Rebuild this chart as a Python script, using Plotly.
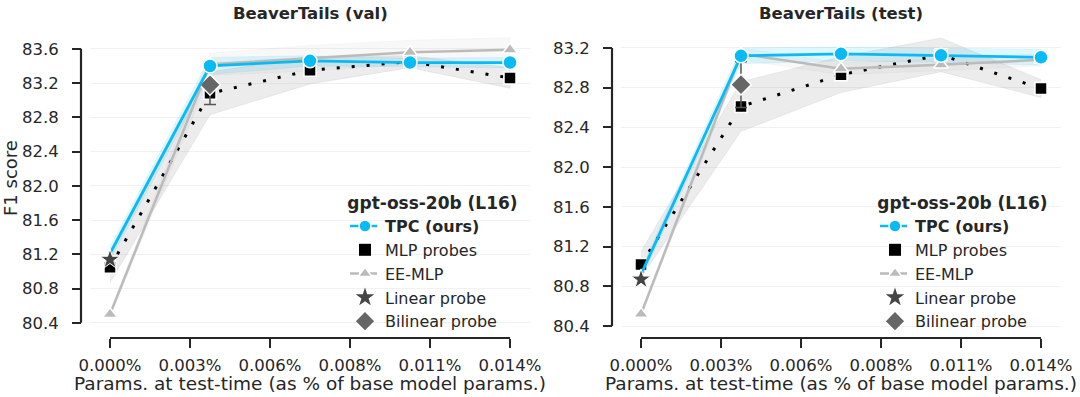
import plotly.graph_objects as go

# params at test-time (% of base model params)
params_pct = [0.0, 0.0035, 0.007, 0.0105, 0.014]
x_ticks = [0.0, 0.0028, 0.0056, 0.0084, 0.0112, 0.014]
x_tick_labels = ["0.000%", "0.003%", "0.006%", "0.008%", "0.011%", "0.014%"]

# BeaverTails (val)
tpc_val = [81.21, 83.40, 83.46, 83.44, 83.44]
tpc_val_sd = [0.08, 0.10, 0.06, 0.05, 0.06]
mlp_val = [81.05, 83.08, 83.35, 83.45, 83.26]
mlp_val_sd = [0.18, 0.25, 0.16, 0.07, 0.12]
ee_val = [80.50, 83.42, 83.49, 83.56, 83.59]
ee_val_sd = [0.03, 0.13, 0.15, 0.14, 0.14]
linear_val = 81.14
bilinear_val = 83.18
bilinear_val_err = 0.23
y_ticks_val = [80.4, 80.8, 81.2, 81.6, 82.0, 82.4, 82.8, 83.2, 83.6]

# BeaverTails (test)
tpc_test = [80.92, 83.12, 83.14, 83.125, 83.105]
tpc_test_sd = [0.05, 0.08, 0.07, 0.07, 0.08]
mlp_test = [81.02, 82.61, 82.93, 83.13, 82.79]
mlp_test_sd = [0.13, 0.25, 0.18, 0.17, 0.09]
ee_test = [80.52, 83.14, 82.99, 83.03, 83.08]
ee_test_sd = [0.03, 0.06, 0.06, 0.06, 0.06]
linear_test = 80.87
bilinear_test = 82.83
bilinear_test_err = 0.23
y_ticks_test = [80.4, 80.8, 81.2, 81.6, 82.0, 82.4, 82.8, 83.2]

FONT = "DejaVu Sans"
INK = "#262626"
BLUE = "#0abaf5"
W, H = 1080, 397

panels = [
    dict(title="BeaverTails (val)", tpc=tpc_val, tpc_sd=tpc_val_sd, mlp=mlp_val, mlp_sd=mlp_val_sd,
         ee=ee_val, ee_sd=ee_val_sd, lin=linear_val, bil=bilinear_val, bil_err=bilinear_val_err,
         yticks=y_ticks_val, yrange=[80.34, 83.82], xdom=[90 / W, 530 / W], yspine=81 / W,
         xa="x", ya="y", leg="legend", legx=345 / W),
    dict(title="BeaverTails (test)", tpc=tpc_test, tpc_sd=tpc_test_sd, mlp=mlp_test, mlp_sd=mlp_test_sd,
         ee=ee_test, ee_sd=ee_test_sd, lin=linear_test, bil=bilinear_test, bil_err=bilinear_test_err,
         yticks=y_ticks_test, yrange=[80.38, 83.38], xdom=[621 / W, 1061 / W], yspine=612 / W,
         xa="x2", ya="y2", leg="legend2", legx=875 / W),
]


def band(x, m, s):
    up = [a + b for a, b in zip(m, s)]
    lo = [a - b for a, b in zip(m, s)]
    return x + x[::-1], up + lo[::-1]


fig = go.Figure()
ydom = [(H - 328) / H, (H - 30) / H]
xspine_y = (H - 338) / H
shapes, annotations = [], []

for i, p in enumerate(panels):
    xa, ya = p["xa"], p["ya"]
    common = dict(xaxis=xa, yaxis=ya, showlegend=False, hoverinfo="skip")

    # shaded bands
    for m, s, col in [(p["ee"], p["ee_sd"], "rgba(150,150,150,0.07)"),
                      (p["mlp"], p["mlp_sd"], "rgba(140,140,140,0.17)"),
                      (p["tpc"], p["tpc_sd"], "rgba(10,186,245,0.12)")]:
        bx, by = band(params_pct, m, s)
        fig.add_trace(go.Scatter(x=bx, y=by, fill="toself", fillcolor=col, mode="lines",
                                 line=dict(width=0.8, color=col), **common))

    # MLP probes
    fig.add_trace(go.Scatter(x=params_pct, y=p["mlp"], mode="lines+markers",
                             line=dict(color="black", width=3, dash="3px,12px"),
                             marker=dict(symbol="square", size=12, color="black",
                                         line=dict(color="white", width=1.5)), **common))
    # EE-MLP
    fig.add_trace(go.Scatter(x=params_pct, y=p["ee"], mode="lines+markers",
                             line=dict(color="#bbbbbb", width=2.5),
                             marker=dict(symbol="triangle-up", size=13, color="#bbbbbb",
                                         line=dict(color="white", width=1.5)), **common))
    # Bilinear probe
    fig.add_trace(go.Scatter(x=[params_pct[1]], y=[p["bil"]], mode="markers",
                             error_y=dict(type="data", array=[p["bil_err"]], color="#555555",
                                          thickness=1.5, width=6),
                             marker=dict(symbol="diamond", size=16, color="#666666",
                                         line=dict(color="white", width=1.5)), **common))
    # TPC
    fig.add_trace(go.Scatter(x=params_pct, y=p["tpc"], mode="lines",
                             line=dict(color=BLUE, width=2.8), **common))
    fig.add_trace(go.Scatter(x=params_pct[1:], y=p["tpc"][1:], mode="markers",
                             marker=dict(symbol="circle", size=14, color=BLUE,
                                         line=dict(color="white", width=1.5)), **common))
    # Linear probe
    fig.add_trace(go.Scatter(x=[params_pct[0]], y=[p["lin"]], mode="markers",
                             marker=dict(symbol="star", size=15, color="#454545",
                                         line=dict(color="white", width=1)), **common))

    # legend-only entries
    leg = dict(xaxis=xa, yaxis=ya, legend=p["leg"], x=[None], y=[None])
    fig.add_trace(go.Scatter(name="<b>TPC (ours)</b>", mode="lines+markers",
                             line=dict(color=BLUE, width=2.5, dash="dash"),
                             marker=dict(symbol="circle", size=12, color=BLUE,
                                         line=dict(color="white", width=1.5)), **leg))
    fig.add_trace(go.Scatter(name="MLP probes", mode="markers",
                             marker=dict(symbol="square", size=12, color="black"), **leg))
    fig.add_trace(go.Scatter(name="EE-MLP", mode="lines+markers",
                             line=dict(color="#bbbbbb", width=2.5, dash="dash"),
                             marker=dict(symbol="triangle-up", size=12, color="#bbbbbb",
                                         line=dict(color="white", width=1.5)), **leg))
    fig.add_trace(go.Scatter(name="Linear probe", mode="markers",
                             marker=dict(symbol="star", size=14, color="#454545"), **leg))
    fig.add_trace(go.Scatter(name="Bilinear probe", mode="markers",
                             marker=dict(symbol="diamond", size=14, color="#666666"), **leg))

    sfx = "" if i == 0 else "2"
    fig.layout["xaxis" + sfx] = dict(
        domain=p["xdom"], range=[-0.0007, 0.0147], anchor="free", position=xspine_y,
        tickvals=x_ticks, ticktext=x_tick_labels, ticks="outside", ticklen=9,
        tickwidth=2, tickcolor=INK, showline=False, showgrid=False, zeroline=False,
        automargin=False, tickfont=dict(size=16.5, color=INK, family=FONT),
        ticklabelstandoff=3)
    fig.layout["yaxis" + sfx] = dict(
        domain=ydom, range=p["yrange"], anchor="free", position=p["yspine"],
        tickvals=p["yticks"], tickformat=".1f", ticks="outside", ticklen=9,
        tickwidth=2, tickcolor=INK, showline=False, showgrid=True, gridcolor="#f1f1f1",
        gridwidth=1.2, zeroline=False, automargin=False,
        tickfont=dict(size=16.5, color=INK, family=FONT), ticklabelstandoff=10)
    fig.layout[p["leg"]] = dict(
        x=p["legx"], y=(H - 187) / H, xanchor="left", yanchor="top",
        bgcolor="rgba(0,0,0,0)", font=dict(size=16, color=INK, family=FONT),
        title=dict(text="<b>gpt-oss-20b (L16)</b>", side="top center",
                   font=dict(size=17, color=INK, family=FONT)),
        itemwidth=30, tracegroupgap=0)

    # trimmed, offset spines
    shapes.append(dict(type="line", xref=xa, yref="paper", x0=x_ticks[0], x1=x_ticks[-1],
                       y0=xspine_y, y1=xspine_y, line=dict(color=INK, width=2.2)))
    shapes.append(dict(type="line", xref="paper", yref=ya, x0=p["yspine"], x1=p["yspine"],
                       y0=p["yticks"][0], y1=p["yticks"][-1], line=dict(color=INK, width=2.2)))

    annotations.append(dict(text="<b>" + p["title"] + "</b>", xref=xa + " domain", yref="paper",
                            x=0.5, y=(H - 13) / H, showarrow=False, yanchor="middle",
                            font=dict(size=16.5, color=INK, family=FONT)))
    annotations.append(dict(text="Params. at test-time (as % of base model params.)",
                            xref=xa + " domain", yref="paper", x=0.5, y=(H - 383) / H,
                            showarrow=False, yanchor="middle",
                            font=dict(size=18.5, color=INK, family=FONT)))

annotations.append(dict(text="F1 score", xref="paper", yref="paper", x=10 / W, y=(H - 178) / H,
                        textangle=-90, showarrow=False, xanchor="center", yanchor="middle",
                        borderpad=0, font=dict(size=18, color=INK, family=FONT)))

fig.update_layout(width=W, height=H, margin=dict(l=0, r=0, t=0, b=0),
                  paper_bgcolor="white", plot_bgcolor="white",
                  shapes=shapes, annotations=annotations,
                  font=dict(family=FONT, color=INK))

fig.write_html("out.html", config={"displayModeBar": False},
               post_script="document.body.style.margin='0px';")
